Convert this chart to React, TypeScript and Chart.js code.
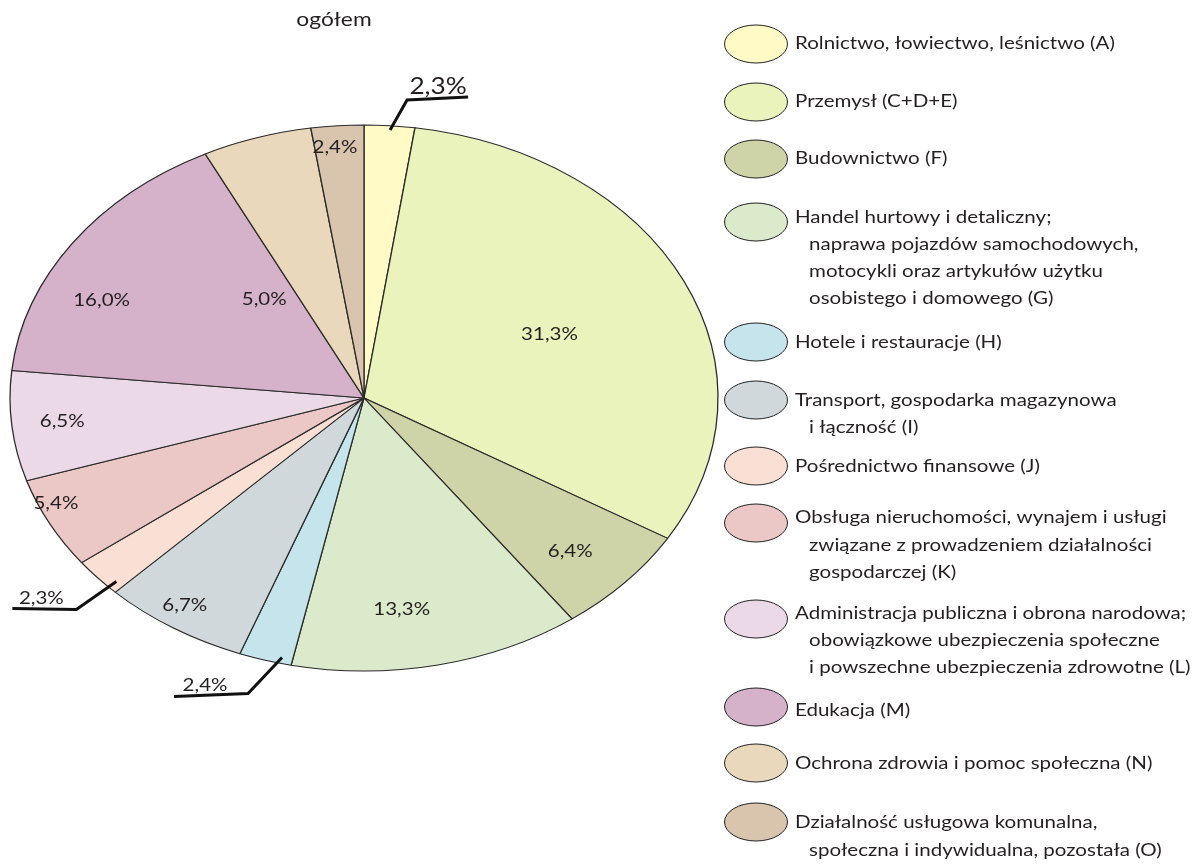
import React, { useEffect, useRef } from "react";
import { Chart, registerables } from "chart.js";

Chart.register(...registerables);

// ---------- data ----------
const categories = [
  "Rolnictwo, łowiectwo, leśnictwo (A)",
  "Przemysł (C+D+E)",
  "Budownictwo (F)",
  "Handel hurtowy i detaliczny; naprawa pojazdów samochodowych, motocykli oraz artykułów użytku osobistego i domowego (G)",
  "Hotele i restauracje (H)",
  "Transport, gospodarka magazynowa i łączność (I)",
  "Pośrednictwo finansowe (J)",
  "Obsługa nieruchomości, wynajem i usługi związane z prowadzeniem działalności gospodarczej (K)",
  "Administracja publiczna i obrona narodowa; obowiązkowe ubezpieczenia społeczne i powszechne ubezpieczenia zdrowotne (L)",
  "Edukacja (M)",
  "Ochrona zdrowia i pomoc społeczna (N)",
  "Działalność usługowa komunalna, społeczna i indywidualna, pozostała (O)",
];

const legendLines: string[][] = [
  ["Rolnictwo, łowiectwo, leśnictwo (A)"],
  ["Przemysł (C+D+E)"],
  ["Budownictwo (F)"],
  [
    "Handel hurtowy i detaliczny;",
    "naprawa pojazdów samochodowych,",
    "motocykli oraz artykułów użytku",
    "osobistego i domowego (G)",
  ],
  ["Hotele i restauracje (H)"],
  ["Transport, gospodarka magazynowa", "i łączność (I)"],
  ["Pośrednictwo finansowe (J)"],
  [
    "Obsługa nieruchomości, wynajem i usługi",
    "związane z prowadzeniem działalności",
    "gospodarczej (K)",
  ],
  [
    "Administracja publiczna i obrona narodowa;",
    "obowiązkowe ubezpieczenia społeczne",
    "i powszechne ubezpieczenia zdrowotne (L)",
  ],
  ["Edukacja (M)"],
  ["Ochrona zdrowia i pomoc społeczna (N)"],
  ["Działalność usługowa komunalna,", "społeczna i indywidualna, pozostała (O)"],
];

const shares = [2.3, 31.3, 6.4, 13.3, 2.4, 6.7, 2.3, 5.4, 6.5, 16.0, 5.0, 2.4];
const valueLabels = shares.map((v) => v.toFixed(1).replace(".", ",") + "%");
const chartTitle = "ogółem";

// ---------- styles / layout ----------
const colors = [
  "#FFFAC6",
  "#EAF3BC",
  "#CFD4A8",
  "#DAEACB",
  "#C6E4EC",
  "#D0D8DB",
  "#FADFD5",
  "#EBC7C5",
  "#EBD9E8",
  "#D5B2CA",
  "#E9D8BB",
  "#D9C4AE",
];

const TEXT = "#231F20";
const FONT = "Lato";
const TEXT_SX = 1.14; // horizontal text stretch (Calibri-like proportions)
const SX = 354 / 273; // horizontal stretch of the pie into an ellipse

type Place =
  | { kind: "in"; f: [number, number] }
  | {
      kind: "out";
      f: [number, number];
      elbow: [number, number];
      end: [number, number];
      text: [number, number];
      size: number;
    };

const placement: Place[] = [
  { kind: "out", f: [1.02, 0.984], elbow: [17, -30], end: [61, -3], text: [31, -13], size: 23 },
  { kind: "in", f: [0.58, 0.546] },
  { kind: "in", f: [0.79, 0.83] },
  { kind: "in", f: [0.51, 0.79] },
  { kind: "out", f: [0.83, 0.99], elbow: [-34, 36], end: [-74, 3], text: [-43, -8], size: 18 },
  { kind: "in", f: [0.94, 0.9] },
  { kind: "out", f: [0.93, 1.02], elbow: [-40, 28], end: [-64, -1], text: [-35, -11], size: 18 },
  { kind: "in", f: [0.98, 0.84] },
  { kind: "in", f: [0.857, 0.82] },
  { kind: "in", f: [0.9, 0.63] },
  { kind: "in", f: [0.93, 0.38] },
  { kind: "in", f: [1.09, 0.922] },
];

const legendMarkerY = [44, 102, 159, 222, 342, 400, 466, 523, 619, 707, 763, 822];
const legendTextY: number[][] = [
  [43],
  [101],
  [158],
  [217, 244, 271, 298],
  [342],
  [400, 427],
  [466],
  [517, 545, 572],
  [613, 640, 667],
  [710],
  [763],
  [822, 850],
];
const LEGEND_CX = 756;
const LEGEND_RX = 31.5;
const LEGEND_RY = 19;
const LEGEND_TEXT_X = 795;
const LEGEND_INDENT_X = 809;

function drawText(
  ctx: CanvasRenderingContext2D,
  text: string,
  x: number,
  y: number,
  size: number,
  align: CanvasTextAlign
) {
  ctx.save();
  ctx.translate(x, y);
  ctx.scale(TEXT_SX, 1);
  ctx.font = `${size}px ${FONT}`;
  ctx.textAlign = align;
  ctx.textBaseline = "middle";
  ctx.fillStyle = TEXT;
  ctx.fillText(text, 0, 0);
  ctx.restore();
}

const ellipsePlugin = {
  id: "ellipseStretch",
  beforeDatasetsDraw(chart: any) {
    const arc = chart.getDatasetMeta(0).data[0];
    const ctx = chart.ctx;
    ctx.save();
    ctx.translate(arc.x, 0);
    ctx.scale(SX, 1);
    ctx.translate(-arc.x, 0);
  },
  afterDatasetsDraw(chart: any) {
    chart.ctx.restore();
  },
};

const decorPlugin = {
  id: "decor",
  afterDraw(chart: any) {
    const ctx: CanvasRenderingContext2D = chart.ctx;
    const meta = chart.getDatasetMeta(0);
    ctx.save();

    // title
    drawText(ctx, chartTitle, 334, 20, 20, "center");

    // value labels
    meta.data.forEach((arc: any, i: number) => {
      const { startAngle, endAngle, x, y, outerRadius } = arc.getProps(
        ["startAngle", "endAngle", "x", "y", "outerRadius"],
        true
      );
      const mid = (startAngle + endAngle) / 2;
      const rx = outerRadius * SX;
      const ry = outerRadius;
      const p = placement[i];
      const px = x + rx * Math.cos(mid) * p.f[0];
      const py = y + ry * Math.sin(mid) * p.f[1];
      if (p.kind === "in") {
        drawText(ctx, valueLabels[i], px, py, 18, "center");
      } else {
        const ex = px + p.elbow[0];
        const ey = py + p.elbow[1];
        ctx.strokeStyle = "#111";
        ctx.lineWidth = 3;
        ctx.lineJoin = "miter";
        ctx.beginPath();
        ctx.moveTo(px, py);
        ctx.lineTo(ex, ey);
        ctx.lineTo(ex + p.end[0], ey + p.end[1]);
        ctx.stroke();
        drawText(ctx, valueLabels[i], ex + p.text[0], ey + p.text[1], p.size, "center");
      }
    });

    // legend
    legendLines.forEach((lines, i) => {
      ctx.beginPath();
      ctx.ellipse(LEGEND_CX, legendMarkerY[i], LEGEND_RX, LEGEND_RY, 0, 0, Math.PI * 2);
      ctx.fillStyle = colors[i];
      ctx.fill();
      ctx.lineWidth = 1;
      ctx.strokeStyle = "#222";
      ctx.stroke();
      lines.forEach((line, j) => {
        drawText(ctx, line, j === 0 ? LEGEND_TEXT_X : LEGEND_INDENT_X, legendTextY[i][j], 18, "left");
      });
    });
    ctx.restore();
  },
};

export default function App() {
  const ref = useRef<HTMLCanvasElement | null>(null);
  useEffect(() => {
    if (!ref.current) return;
    const chart = new Chart(ref.current, {
      type: "pie",
      data: {
        labels: categories,
        datasets: [
          {
            data: shares,
            backgroundColor: colors,
            borderColor: "#2a2a2a",
            borderWidth: 1,
            hoverOffset: 0,
            clip: false as any,
          },
        ],
      },
      options: {
        responsive: false,
        animation: false,
        events: [],
        radius: 273,
        layout: { padding: { left: 91, right: 563, top: 125, bottom: 193 } },
        plugins: {
          legend: { display: false },
          tooltip: { enabled: false },
          title: { display: false },
        },
      } as any,
      plugins: [ellipsePlugin, decorPlugin],
    });
    return () => chart.destroy();
  }, []);
  return (
    <div style={{ position: "absolute", left: 0, top: 0, width: 1200, height: 864, background: "#fff" }}>
      <canvas ref={ref} width={1200} height={864} style={{ width: 1200, height: 864, display: "block" }} />
    </div>
  );
}
